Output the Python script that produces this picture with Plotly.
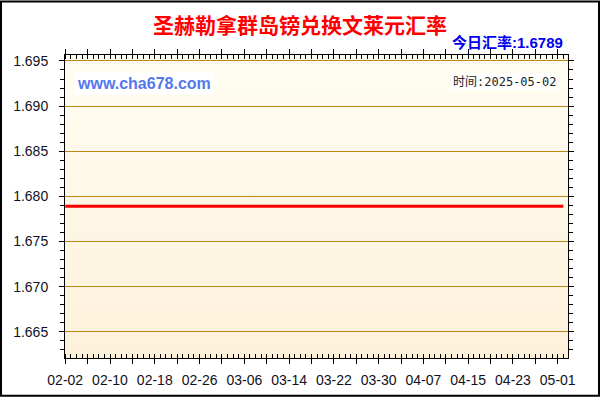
import urllib.parse
import plotly.graph_objects as go

# data
G_DATES = ["2025-02-02", "2025-05-02"]
G_RATES = [1.6789, 1.6789]
G_TITLE = "圣赫勒拿群岛镑兑换文莱元汇率"
G_TODAY = "今日汇率:1.6789"
G_SITE = "www.cha678.com"
G_TIME = "时间:2025-05-02"

# plot area in pixels
L, R, T, B = 65, 568, 55, 361
W, H = R - L, B - T

def px(x):
	return (x - L) / W

def py(y):
	return (B - y) / H

fig = go.Figure()
fig.add_trace(go.Scatter(
	x=G_DATES,
	y=G_RATES,
	mode="lines",
	line=dict(color="#FF0000", width=3),
	hoverinfo="x+y"
))

svg = ('<svg xmlns="http://www.w3.org/2000/svg" width="10" height="100" preserveAspectRatio="none">'
	'<defs><linearGradient id="g" x1="0" y1="0" x2="0" y2="1">'
	'<stop offset="0" stop-color="#FFFDF2"/><stop offset="1" stop-color="#FDF1DA"/>'
	'</linearGradient></defs><rect width="10" height="100" fill="url(#g)"/></svg>')
bg = "data:image/svg+xml;utf8," + urllib.parse.quote(svg)

tickfont = dict(family="Liberation Sans, Arial", size=14, color="#111122")

fig.update_layout(
	width=600, height=400,
	margin=dict(l=L, r=600 - R, t=T, b=400 - B),
	paper_bgcolor="white",
	plot_bgcolor="#FEF7E4",
	showlegend=False,
	images=[dict(source=bg, xref="paper", yref="paper", x=0, y=1, sizex=1, sizey=1,
		sizing="stretch", xanchor="left", yanchor="top", layer="below")],
	xaxis=dict(
		type="date",
		range=["2025-02-01 23:00", "2025-05-02 20:00"],
		tick0="2025-02-02", dtick=4 * 86400000, ticklabelstep=2,
		tickformat="%m-%d",
		ticks="outside", ticklen=5, tickcolor="black",
		minor=dict(dtick=86400000, ticks="inside", ticklen=4, tickcolor="black", showgrid=False),
		showline=True, linecolor="black", linewidth=1, mirror="allticks",
		showgrid=False, zeroline=False,
		tickfont=tickfont, ticklabelstandoff=4
	),
	yaxis=dict(
		range=[1.66211, 1.69566],
		tick0=1.665, dtick=0.005, tickformat=".3f",
		ticks="outside", ticklen=5, tickcolor="black",
		minor=dict(dtick=0.001, ticks="outside", ticklen=4, tickcolor="black", showgrid=False),
		showline=True, linecolor="black", linewidth=1, mirror="allticks",
		showgrid=True, gridcolor="#BC8815", gridwidth=1, zeroline=False,
		tickfont=tickfont, ticklabelstandoff=8
	),
	annotations=[
		dict(text="<b>" + G_TITLE + "</b>", x=px(300), y=py(24), xref="paper", yref="paper",
			xanchor="center", yanchor="middle", showarrow=False,
			font=dict(family="Noto Sans CJK SC", size=21, color="#FF0000")),
		dict(text="<b>" + G_TODAY + "</b>", x=px(565), y=py(42.5), xref="paper", yref="paper",
			xanchor="right", yanchor="middle", showarrow=False,
			font=dict(family="Liberation Sans, Noto Sans CJK SC", size=15, color="#0000EE")),
		dict(text="<b>" + G_SITE + "</b>", x=px(74), y=py(84), xref="paper", yref="paper",
			xanchor="left", yanchor="middle", showarrow=False, bgcolor="white", borderpad=2,
			font=dict(family="Liberation Sans, Arial", size=16, color="#5577EE")),
		dict(text=G_TIME, x=px(558), y=py(82), xref="paper", yref="paper",
			xanchor="right", yanchor="middle", showarrow=False, bgcolor="white", borderpad=1,
			font=dict(family="DejaVu Sans Mono, Noto Sans CJK SC", size=12, color="#222222")),
	],
	shapes=[
		dict(type="rect", xref="paper", yref="paper",
			x0=px(1), x1=px(599), y0=py(399), y1=py(1),
			line=dict(color="black", width=2), layer="above"),
	]
)

# page body has an 8px margin by default; drop it so the chart fills the window
fig.write_html("out.html", config={"displayModeBar": False},
	post_script="document.body.style.margin='0';")
